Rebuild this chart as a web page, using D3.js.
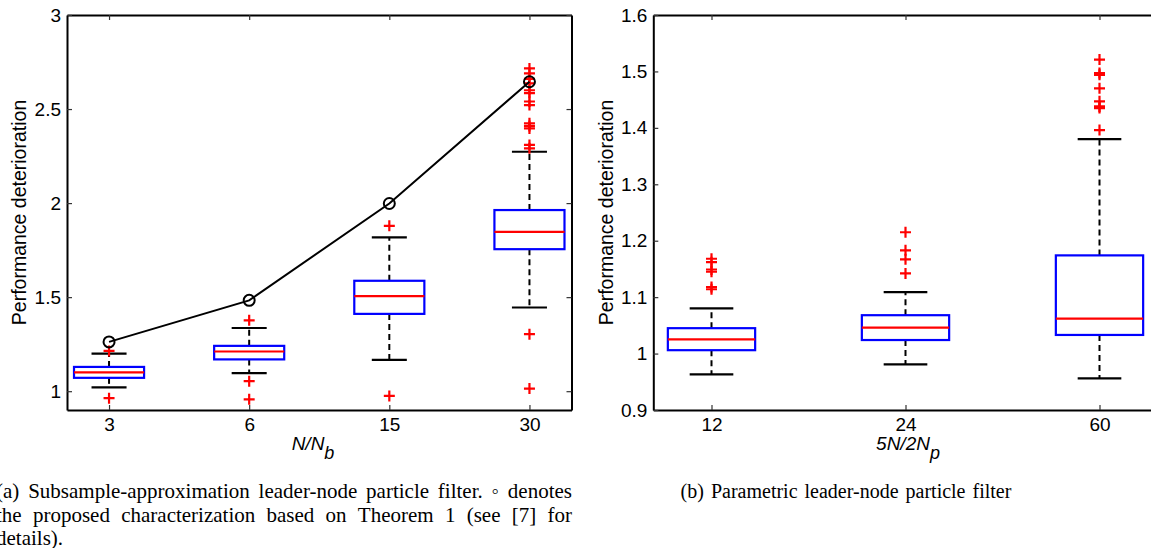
<!DOCTYPE html>
<html>
<head>
<meta charset="utf-8">
<script src="https://cdn.jsdelivr.net/npm/d3@7"></script>
<style>
  body { margin: 0; background: #fff; overflow: hidden; }
  svg { display: block; }
</style>
</head>
<body>
<script>
"use strict";

// panel (a): subsample-approximation leader-node PF
let catsA = ["3", "6", "15", "30"];
let q1A = [1.071, 1.169, 1.411, 1.755];
let medA = [1.100, 1.211, 1.505, 1.847];
let q3A = [1.129, 1.241, 1.587, 1.963];
let loA = [1.020, 1.096, 1.167, 1.445];
let hiA = [1.200, 1.336, 1.818, 2.273];
let outA = [
    [1.214, 0.963],
    [1.377, 1.053, 0.957],
    [1.879, 0.975],
    [2.716, 2.69, 2.66, 2.637, 2.60, 2.585, 2.54, 2.521, 2.424, 2.41, 2.397, 2.309, 2.291, 1.303, 1.014]
];
let theoryA = [1.262, 1.483, 1.998, 2.645];
let yTicksA = [1, 1.5, 2, 2.5, 3];

// panel (b): parametric leader-node PF
let catsB = ["12", "24", "60"];
let q1B = [1.006, 1.024, 1.033];
let medB = [1.025, 1.046, 1.062];
let q3B = [1.045, 1.068, 1.174];
let loB = [0.963, 0.981, 0.956];
let hiB = [1.080, 1.109, 1.380];
let outB = [
    [1.168, 1.162, 1.149, 1.145, 1.118, 1.114],
    [1.215, 1.183, 1.167, 1.142],
    [1.521, 1.497, 1.494, 1.470, 1.447, 1.438, 1.435, 1.396]
];
let yTicksB = [0.9, 1, 1.1, 1.2, 1.3, 1.4, 1.5, 1.6];

let w = 1151, h = 548;
let svg = d3.select("body").append("svg").attr("width", w).attr("height", h);
let sans = "'Liberation Sans', Arial, sans-serif";

function drawPanel(p) {
    let x = d3.scaleLinear().domain(p.xdom).range(p.xr);
    let y = d3.scaleLinear().domain(p.ydom).range([410, 15]);
    let g = svg.append("g");
    let idx = p.cats.map(function (d, i) { return i + 1; });

    // boxes
    let box = g.selectAll(".box").data(p.cats).enter().append("g");
    // whiskers (dashed)
    box.append("line")
        .attr("x1", function (d, i) { return x(i + 1); })
        .attr("x2", function (d, i) { return x(i + 1); })
        .attr("y1", function (d, i) { return y(p.q3[i]); })
        .attr("y2", function (d, i) { return y(p.hi[i]); })
        .style("stroke", "#000").style("stroke-width", 2).style("stroke-dasharray", "6,4");
    box.append("line")
        .attr("x1", function (d, i) { return x(i + 1); })
        .attr("x2", function (d, i) { return x(i + 1); })
        .attr("y1", function (d, i) { return y(p.q1[i]); })
        .attr("y2", function (d, i) { return y(p.lo[i]); })
        .style("stroke", "#000").style("stroke-width", 2).style("stroke-dasharray", "6,4");
    // caps
    [p.hi, p.lo].forEach(function (arr) {
        box.append("line")
            .attr("x1", function (d, i) { return x(i + 1 - p.bw / 2); })
            .attr("x2", function (d, i) { return x(i + 1 + p.bw / 2); })
            .attr("y1", function (d, i) { return y(arr[i]); })
            .attr("y2", function (d, i) { return y(arr[i]); })
            .style("stroke", "#000").style("stroke-width", 2.2);
    });
    box.append("rect")
        .attr("x", function (d, i) { return x(i + 1 - p.bw); })
        .attr("width", function (d, i) { return x(i + 1 + p.bw) - x(i + 1 - p.bw); })
        .attr("y", function (d, i) { return y(p.q3[i]); })
        .attr("height", function (d, i) { return y(p.q1[i]) - y(p.q3[i]); })
        .style("fill", "none").style("stroke", "#0000ff").style("stroke-width", 2.2);
    box.append("line")
        .attr("x1", function (d, i) { return x(i + 1 - p.bw); })
        .attr("x2", function (d, i) { return x(i + 1 + p.bw); })
        .attr("y1", function (d, i) { return y(p.med[i]); })
        .attr("y2", function (d, i) { return y(p.med[i]); })
        .style("stroke", "#ff0000").style("stroke-width", 2.2);

    // outliers as red +
    let pts = [];
    p.out.forEach(function (arr, i) {
        arr.forEach(function (v) { pts.push({ k: i + 1, v: v }); });
    });
    g.selectAll(".out").data(pts).enter().append("path")
        .attr("d", function (d) {
            let cx = x(d.k), cy = y(d.v), s = 5.5;
            return "M" + (cx - s) + "," + cy + "H" + (cx + s) + "M" + cx + "," + (cy - s) + "V" + (cy + s);
        })
        .style("stroke", "#ff0000").style("stroke-width", 2.2).style("fill", "none");

    // theory curve
    if (p.theory) {
        let line = d3.line()
            .x(function (d, i) { return x(i + 1); })
            .y(function (d) { return y(d); });
        g.append("path").datum(p.theory).attr("d", line)
            .style("fill", "none").style("stroke", "#000").style("stroke-width", 2);
        g.selectAll(".th").data(p.theory).enter().append("circle")
            .attr("cx", function (d, i) { return x(i + 1); })
            .attr("cy", function (d) { return y(d); })
            .attr("r", 5.5)
            .style("fill", "none").style("stroke", "#000").style("stroke-width", 2);
    }

    // axes, ticks inward on all sides
    let fmt = function (d) { return String(+d.toFixed(1)); };
    let ax = [
        g.append("g").attr("transform", "translate(0,410)")
            .call(d3.axisBottom(x).tickValues(idx).tickFormat(function (d) { return p.cats[d - 1]; })
                .tickSizeInner(-5).tickSizeOuter(0).tickPadding(8)),
        g.append("g").attr("transform", "translate(0,15)")
            .call(d3.axisTop(x).tickValues(idx).tickFormat("").tickSizeInner(-5).tickSizeOuter(0)),
        g.append("g").attr("transform", "translate(" + p.xr[0] + ",0)")
            .call(d3.axisLeft(y).tickValues(p.yticks).tickFormat(fmt)
                .tickSizeInner(-5).tickSizeOuter(0).tickPadding(6)),
        g.append("g").attr("transform", "translate(" + p.xr[1] + ",0)")
            .call(d3.axisRight(y).tickValues(p.yticks).tickFormat("").tickSizeInner(-5).tickSizeOuter(0))
    ];
    ax.forEach(function (a) {
        a.select(".domain").style("stroke", "#000").style("stroke-width", 2);
        a.selectAll(".tick line").style("stroke", "#333").style("stroke-width", 1.2);
        a.selectAll("text").style("font-family", sans)
            .style("font-size", "19px").style("fill", "#000");
    });

    // axis titles
    svg.append("text")
        .attr("transform", "translate(" + p.ylabX + "," + ((15 + 410) / 2) + ") rotate(-90)")
        .attr("text-anchor", "middle")
        .style("font-family", sans)
        .style("font-size", "19.5px")
        .text("Performance deterioration");

    let xlab = svg.append("text")
        .attr("x", p.xlabX)
        .attr("y", 450)
        .attr("text-anchor", "middle")
        .style("font-family", sans)
        .style("font-size", "19px")
        .style("font-style", "italic");
    xlab.append("tspan").text(p.xlab[0]);
    xlab.append("tspan").attr("dy", 9).style("font-size", "18px").text(p.xlab[1]);
}

drawPanel({
    cats: catsA, q1: q1A, med: medA, q3: q3A, lo: loA, hi: hiA, out: outA, theory: theoryA,
    xdom: [0.7, 4.3], xr: [67, 571.5], ydom: [0.9, 3], yticks: yTicksA, bw: 0.25,
    ylabX: 26, xlab: ["N/N", "b"], xlabX: 313
});
drawPanel({
    cats: catsB, q1: q1B, med: medB, q3: q3B, lo: loB, hi: hiB, out: outB, theory: null,
    xdom: [0.7, 3.3], xr: [653.3, 1157.7], ydom: [0.9, 1.6], yticks: yTicksB, bw: 0.225,
    ylabX: 613, xlab: ["5N/2N", "p"], xlabX: 908
});

// captions (Times-like, justified like the LaTeX source)
let capFont = "'Liberation Serif', 'Times New Roman', serif";
function justifyLine(words, x0, x1, yb, stretch) {
    let t = svg.selectAll(null).data(words).enter().append("text")
        .attr("y", yb)
        .style("font-family", capFont).style("font-size", "21px")
        .text(function (d) { return d; });
    let widths = [];
    t.each(function () { widths.push(this.getComputedTextLength()); });
    let total = d3.sum(widths);
    let gap = stretch ? (x1 - x0 - total) / (words.length - 1) : 5;
    let pos = x0;
    t.attr("x", function (d, i) {
        let p = pos;
        pos += widths[i] + gap;
        return p;
    });
}
justifyLine(["(a)", "Subsample-approximation", "leader-node", "particle", "filter.", "\u25E6", "denotes"], -4, 572, 498, true);
justifyLine(["the", "proposed", "characterization", "based", "on", "Theorem", "1", "(see", "[7]", "for"], -4, 572, 522, true);
justifyLine(["details)."], -4, 572, 545, false);

svg.append("text")
    .attr("x", 846).attr("y", 498)
    .attr("text-anchor", "middle")
    .style("font-family", capFont).style("font-size", "20px")
    .style("word-spacing", "2px")
    .text("(b) Parametric leader-node particle filter");
</script>
</body>
</html>
